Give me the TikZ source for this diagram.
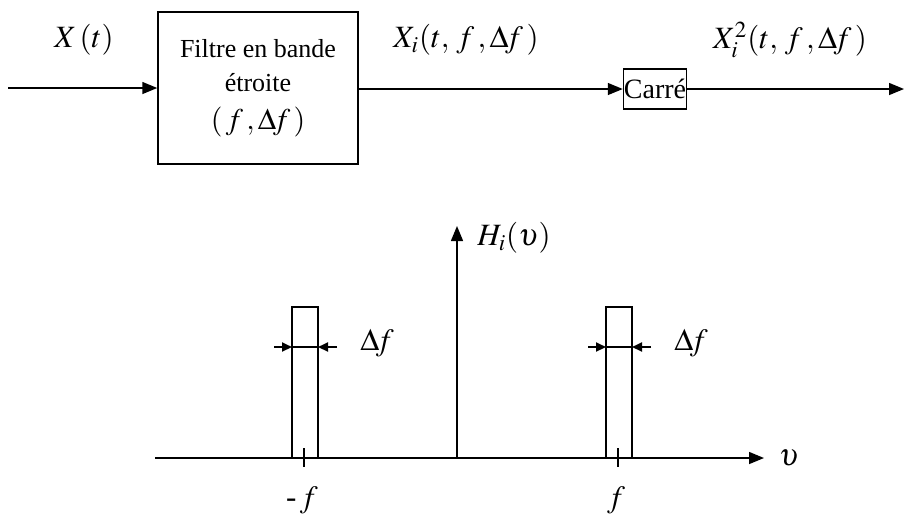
\documentclass[tikz,border=0pt]{standalone}
\usepackage{mathptmx}
\usepackage{fontspec}
\setmainfont{Liberation Serif}
\usetikzlibrary{arrows.meta,positioning}

\tikzset{
    sig/.style={line width=0.75pt, -{Triangle[length=7.5pt,width=6pt]}},
    dimtip/.style={line width=1pt, -{Triangle[length=5pt,width=4.5pt]}},
    blockbox/.style={draw, line width=0.75pt, align=center, font=\fontsize{13}{17}\selectfont},
    lab/.style={font=\fontsize{15.5}{17}\selectfont}
}

\begin{document}
\begin{tikzpicture}[x=0.5pt, y=-0.5pt]
    \useasboundingbox (0,0) rectangle (905,516);

    % Chaine de traitement
    \coordinate (xin) at (8,88);
    \node[blockbox, minimum width=100pt, minimum height=76pt] (filtre) at (258,88)
        {Filtre en bande\\ étroite\\[2pt] {\fontsize{15}{17}\selectfont$(\,f\,,\Delta\! f\,)$}};
    \node[blockbox, minimum width=31.5pt, minimum height=20pt, inner sep=0pt,
        font=\fontsize{14}{16}\selectfont] (carre) at (655,89) {Carré};
    \coordinate (xout) at (904,89);

    \draw[sig] (xin) -- (filtre);
    \draw[sig] (filtre.east |- carre) -- (carre);
    \draw[sig] (carre) -- (xout);

    \node[lab] (lxt) at (84,40) {$X\,(t)$};
    \node[lab] (lxi) at (466,40) {$X_{i}(t,\,f\,,\Delta\! f\,)$};
    \node[lab] (lxc) at (790,40) {$X_{i}^{2}(t,\,f\,,\Delta\! f\,)$};

    % Reponse du filtre
    \coordinate (o) at (457,458);
    \coordinate (hstart) at (155,458);
    \coordinate (hend) at (764,458);
    \coordinate (vend) at (457,226);
    \draw[sig] (hstart) -- (hend);
    \draw[sig] (o) -- (vend);
    \node[lab] (lh) at (514,238) {$H_{i}(\upsilon)$};
    \node[lab] (lnu) at (789,458) {$\upsilon$};

    \foreach \c/\t/\n in {305/\mbox{-}\,f/m, 619/f/p}{
        \draw[line width=0.9pt] (\c-13,458) -- (\c-13,307) -- (\c+13,307) -- (\c+13,458);
        \draw[line width=0.9pt] (\c-1,448) -- (\c-1,467);
        \draw[dimtip] (\c-31,347) -- (\c-13,347);
        \draw[dimtip] (\c+32,347) -- (\c+13,347);
        \draw[line width=1pt] (\c-13,347) -- (\c+13,347);
        \node[lab] (ldf\n) at (\c+72,343) {$\Delta\! f$};
        \node[lab] (lf\n) at (\c-3,500) {$\t$};
    }
\end{tikzpicture}
\end{document}
